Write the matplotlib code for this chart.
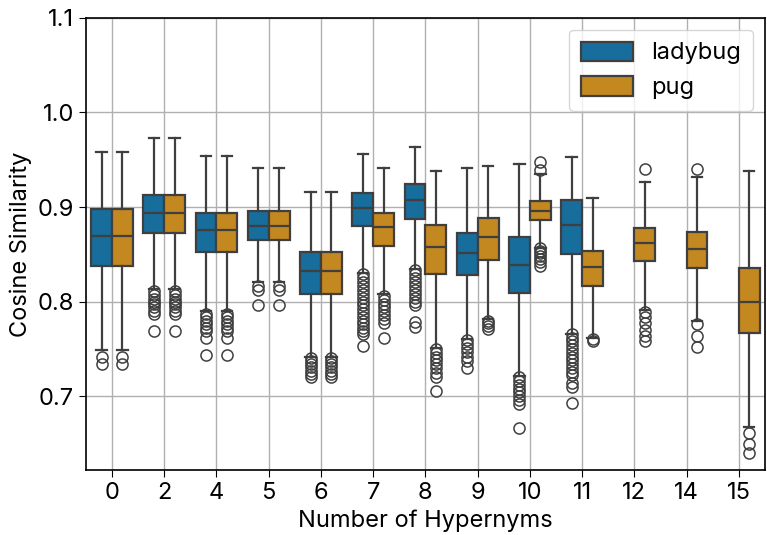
import numpy as np
import matplotlib
matplotlib.use("Agg")
import matplotlib.pyplot as plt
from matplotlib.patches import Patch
import seaborn as sns

plt.rcParams['font.family'] = ['Inter', 'DejaVu Sans']

categories = ['0', '2', '4', '5', '6', '7', '8', '9', '10', '11', '12', '14', '15']
hues = ['ladybug', 'pug']

# box stats per category: [whislo, q1, med, q3, whishi]; None = no data
ladybug_stats = [
    [0.749, 0.838, 0.869, 0.898, 0.958],
    [0.813, 0.873, 0.894, 0.913, 0.973],
    [0.790, 0.852, 0.876, 0.894, 0.954],
    [0.821, 0.865, 0.880, 0.896, 0.941],
    [0.741, 0.808, 0.832, 0.853, 0.916],
    [0.830, 0.880, 0.899, 0.915, 0.956],
    [0.834, 0.887, 0.908, 0.924, 0.963],
    [0.760, 0.828, 0.851, 0.873, 0.941],
    [0.721, 0.809, 0.839, 0.868, 0.946],
    [0.766, 0.850, 0.881, 0.907, 0.953],
    None, None, None,
]
pug_stats = [
    [0.749, 0.838, 0.869, 0.898, 0.958],
    [0.813, 0.873, 0.894, 0.913, 0.973],
    [0.790, 0.852, 0.876, 0.894, 0.954],
    [0.821, 0.865, 0.880, 0.896, 0.941],
    [0.741, 0.808, 0.832, 0.853, 0.916],
    [0.808, 0.859, 0.879, 0.894, 0.941],
    [0.751, 0.829, 0.858, 0.881, 0.938],
    [0.782, 0.844, 0.868, 0.888, 0.943],
    [0.857, 0.886, 0.896, 0.906, 0.935],
    [0.762, 0.817, 0.837, 0.854, 0.910],
    [0.791, 0.843, 0.862, 0.878, 0.927],
    [0.780, 0.836, 0.856, 0.874, 0.932],
    [0.667, 0.767, 0.800, 0.836, 0.938],
]

ladybug_fliers = [
    [0.741, 0.734],
    [0.811, 0.807, 0.803, 0.800, 0.797, 0.794, 0.790, 0.787, 0.769],
    [0.787, 0.784, 0.780, 0.776, 0.772, 0.769, 0.762, 0.744],
    [0.817, 0.812, 0.796],
    [0.740, 0.737, 0.734, 0.731, 0.727, 0.723, 0.720],
    [0.829, 0.825, 0.821, 0.817, 0.812, 0.808, 0.804, 0.800, 0.796, 0.792,
     0.788, 0.784, 0.780, 0.776, 0.772, 0.769, 0.766, 0.753],
    [0.833, 0.829, 0.825, 0.821, 0.817, 0.812, 0.808, 0.804, 0.800, 0.796,
     0.778, 0.773],
    [0.759, 0.755, 0.751, 0.747, 0.742, 0.737, 0.730],
    [0.720, 0.716, 0.712, 0.708, 0.704, 0.700, 0.696, 0.692, 0.666],
    [0.766, 0.762, 0.758, 0.754, 0.750, 0.746, 0.742, 0.738, 0.734, 0.730,
     0.726, 0.722, 0.714, 0.710, 0.693],
    [], [], [],
]
pug_fliers = [
    [0.741, 0.734],
    [0.811, 0.807, 0.803, 0.800, 0.797, 0.794, 0.790, 0.787, 0.769],
    [0.787, 0.784, 0.780, 0.776, 0.772, 0.769, 0.762, 0.744],
    [0.817, 0.812, 0.796],
    [0.740, 0.737, 0.734, 0.731, 0.727, 0.723, 0.720],
    [0.806, 0.802, 0.798, 0.794, 0.790, 0.786, 0.782, 0.777, 0.762],
    [0.750, 0.746, 0.742, 0.738, 0.734, 0.730, 0.725, 0.720, 0.705],
    [0.780, 0.777, 0.774, 0.771],
    [0.948, 0.939, 0.857, 0.854, 0.851, 0.848, 0.845, 0.842, 0.838],
    [0.760, 0.758],
    [0.940, 0.789, 0.784, 0.777, 0.770, 0.764, 0.758],
    [0.940, 0.776, 0.764, 0.752],
    [0.661, 0.650, 0.640],
]

palette = sns.color_palette("colorblind")
colors = [sns.desaturate(palette[0], 0.75), sns.desaturate(palette[1], 0.75)]
edge = '#3f3f3f'

fig = plt.figure(figsize=(7.67, 5.35), dpi=100)
ax = fig.add_axes([0.112, 0.1215, 0.8853, 0.845])
ax.grid(True, color='#b0b0b0', linewidth=1.0, zorder=0)
ax.set_axisbelow(True)

for h, (stats_list, flier_list) in enumerate([(ladybug_stats, ladybug_fliers),
                                              (pug_stats, pug_fliers)]):
    offset = -0.2 if h == 0 else 0.2
    for i, s in enumerate(stats_list):
        if s is None:
            continue
        st = dict(whislo=s[0], q1=s[1], med=s[2], q3=s[3], whishi=s[4],
                  fliers=flier_list[i])
        ax.bxp([st], positions=[i + offset], widths=0.4, capwidths=0.2,
               patch_artist=True, manage_ticks=False,
               boxprops=dict(facecolor=colors[h], edgecolor=edge, linewidth=1.6),
               medianprops=dict(color=edge, linewidth=1.6),
               whiskerprops=dict(color=edge, linewidth=1.6),
               capprops=dict(color=edge, linewidth=1.6),
               flierprops=dict(marker='o', markerfacecolor='none',
                               markeredgecolor=edge, markersize=8,
                               markeredgewidth=1.1))

ax.set_xlim(-0.5, len(categories) - 0.5)
ax.set_ylim(0.622, 1.1)
ax.set_xticks(range(len(categories)))
ax.set_xticklabels(categories)
ax.set_yticks([0.7, 0.8, 0.9, 1.0, 1.1])
ax.tick_params(labelsize=17, length=5)
ax.set_xlabel('Number of Hypernyms', fontsize=17)
ax.set_ylabel('Cosine Similarity', fontsize=17)
for sp in ax.spines.values():
    sp.set_linewidth(1.2)

handles = [Patch(facecolor=colors[k], edgecolor=edge, linewidth=1.6, label=hues[k])
           for k in range(2)]
ax.legend(handles=handles, loc='upper right', fontsize=17, handlelength=2.2,
          handleheight=0.9, borderpad=0.5, framealpha=0.8)

fig.savefig('out.png', dpi=100)
